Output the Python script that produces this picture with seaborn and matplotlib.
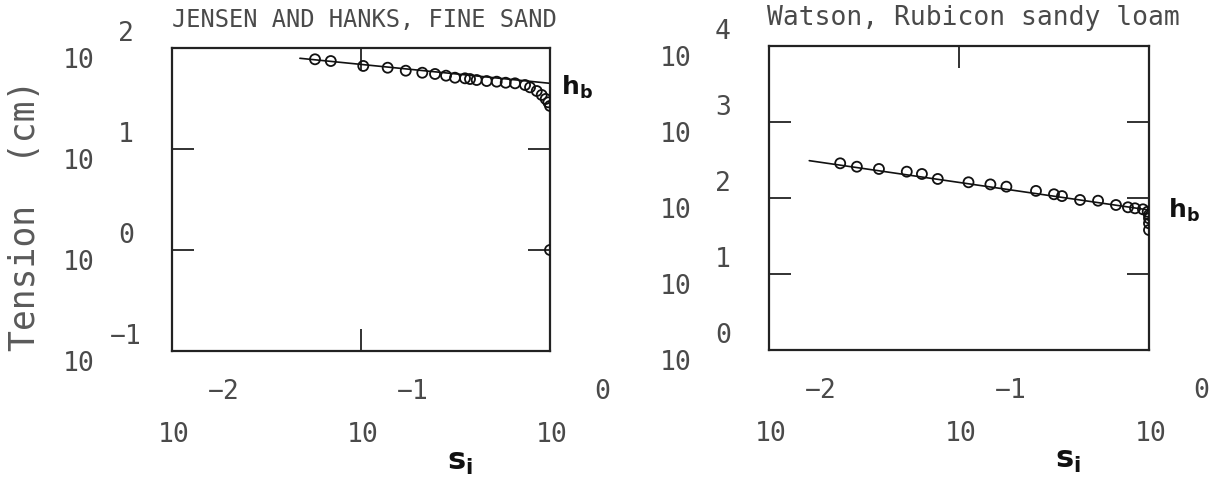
import matplotlib
matplotlib.use("Agg")
import matplotlib.pyplot as plt
from matplotlib.ticker import NullLocator
import seaborn as sns

# Jensen and Hanks, fine sand
jh_s = [0.0571, 0.0692, 0.1028, 0.1384, 0.1725, 0.211, 0.2464, 0.2818, 0.3143,
        0.355, 0.3773, 0.4093, 0.4624, 0.5224, 0.583, 0.6531, 0.738, 0.784,
        0.851, 0.904, 0.949, 0.98, 1.0, 1.0]
jh_h = [77.3, 74.3, 66.4, 63.8, 59.6, 56.9, 55.3, 53.2, 50.8,
        50.1, 49.3, 48.2, 47.1, 46.4, 45.3, 44.7, 43.0, 40.8,
        37.5, 34.3, 31.3, 29.0, 26.7, 1.0]
jh_fit_s = [0.0475, 1.0]
jh_fit_h = [79.1, 44.7]

# Watson, Rubicon sandy loam
wr_s = [0.0237, 0.029, 0.0379, 0.0531, 0.0638, 0.0773, 0.1122, 0.1463, 0.1776,
        0.2542, 0.3162, 0.3484, 0.4335, 0.5393, 0.6701, 0.7748, 0.844, 0.9295,
        0.984, 1.0, 1.0, 1.0, 1.0]
wr_h = [286, 258, 241, 222, 207, 178, 161, 151, 141,
        124, 112, 106, 94.2, 92.1, 80.9, 75.5, 73.2, 71.0,
        66.0, 59.8, 54.1, 46.5, 37.9]
wr_fit_s = [0.01629, 1.0]
wr_fit_h = [310, 69.5]

x_exps = [-2, -1, 0]
jh_y_exps = [-1, 0, 1, 2]
wr_y_exps = [0, 1, 2, 3, 4]

sns.set_theme(style="white")
plt.rcParams["font.family"] = ["DejaVu Sans Mono", "DejaVu Sans"]

mono = "DejaVu Sans Mono"
txt_col = "#4a4a4a"
px = 0.72  # points per pixel at dpi 100


def exp_label(e):
    return str(e).replace("-", "\u2212")


fig = plt.figure(figsize=(12.21, 4.8), dpi=100)
ax1 = fig.add_axes([172 / 1221, 1 - 351 / 480, 378 / 1221, 303 / 480])
ax2 = fig.add_axes([769 / 1221, 1 - 350 / 480, 380 / 1221, 304 / 480])


def draw_panel(ax, s, h, fit_s, fit_h, ylim, y_exps, yticks, top_only):
    sns.lineplot(x=fit_s, y=fit_h, ax=ax, color="#111111", linewidth=1.2)
    sns.scatterplot(x=s, y=h, ax=ax, marker="o", s=52, facecolor="none",
                    edgecolor="#111111", linewidth=1.3, zorder=3)
    ax.set_xscale("log")
    ax.set_yscale("log")
    ax.set_xlim(1e-2, 1e0)
    ax.set_ylim(*ylim)
    ax.set_xticks([0.1])
    ax.set_yticks(yticks)
    ax.xaxis.set_minor_locator(NullLocator())
    ax.yaxis.set_minor_locator(NullLocator())
    ax.tick_params(direction="in", length=16, width=1.3, color="#222222",
                   bottom=not top_only, top=True, left=True, right=True,
                   labelbottom=False, labelleft=False)
    ax.set_xlabel("")
    ax.set_ylabel("")
    for sp in ax.spines.values():
        sp.set_color("#222222")
        sp.set_linewidth(1.6)

    # old plotter style tick labels: "10" with exponent up and to the right
    for e in x_exps:
        ax.annotate("10", xy=(10.0 ** e, 0), xycoords=("data", "axes fraction"),
                    xytext=(2 * px, -84 * px), textcoords="offset points",
                    ha="center", va="center", fontsize=19, family=mono,
                    color=txt_col, annotation_clip=False)
        ax.annotate(exp_label(e), xy=(10.0 ** e, 0), xycoords=("data", "axes fraction"),
                    xytext=(52 * px, -41 * px), textcoords="offset points",
                    ha="center", va="center", fontsize=19, family=mono,
                    color=txt_col, annotation_clip=False)
    for e in y_exps:
        ax.annotate("10", xy=(0, 10.0 ** e), xycoords=("axes fraction", "data"),
                    xytext=(-93 * px, -13 * px), textcoords="offset points",
                    ha="center", va="center", fontsize=19, family=mono,
                    color=txt_col, annotation_clip=False)
        ax.annotate(exp_label(e), xy=(0, 10.0 ** e), xycoords=("axes fraction", "data"),
                    xytext=(-46 * px, 14 * px), textcoords="offset points",
                    ha="center", va="center", fontsize=19, family=mono,
                    color=txt_col, annotation_clip=False)


draw_panel(ax1, jh_s, jh_h, jh_fit_s, jh_fit_h, (1e-1, 1e2), jh_y_exps, [1, 10], False)
draw_panel(ax2, wr_s, wr_h, wr_fit_s, wr_fit_h, (1e0, 1e4), wr_y_exps, [10, 100, 1000], True)

ax1.annotate(r"$\mathbf{h_b}$", xy=(1.0, jh_fit_h[-1]), xytext=(11 * px, -4 * px),
             textcoords="offset points", ha="left", va="center", fontsize=18,
             color="#111111", annotation_clip=False)
ax2.annotate(r"$\mathbf{h_b}$", xy=(1.0, wr_fit_h[-1]), xytext=(19 * px, 0),
             textcoords="offset points", ha="left", va="center", fontsize=18,
             color="#111111", annotation_clip=False)

fig.text(172 / 1221, 1 - 20 / 480, "JENSEN AND HANKS, FINE SAND", ha="left",
         va="center", fontsize=17, family=mono, color=txt_col)
fig.text(767 / 1221, 1 - 18 / 480, "Watson, Rubicon sandy loam", ha="left",
         va="center", fontsize=19, family=mono, color=txt_col)

fig.text(25 / 1221, 1 - 215 / 480, "Tension  (cm)", rotation=90, ha="center",
         va="center", fontsize=25, family=mono, color="#5a5a5a")

fig.text(460 / 1221, 1 - 462 / 480, r"$\mathbf{s_i}$", ha="center", va="center",
         fontsize=22, color="#111111")
fig.text(1068 / 1221, 1 - 460 / 480, r"$\mathbf{s_i}$", ha="center", va="center",
         fontsize=22, color="#111111")

fig.savefig("out.png", dpi=100)
